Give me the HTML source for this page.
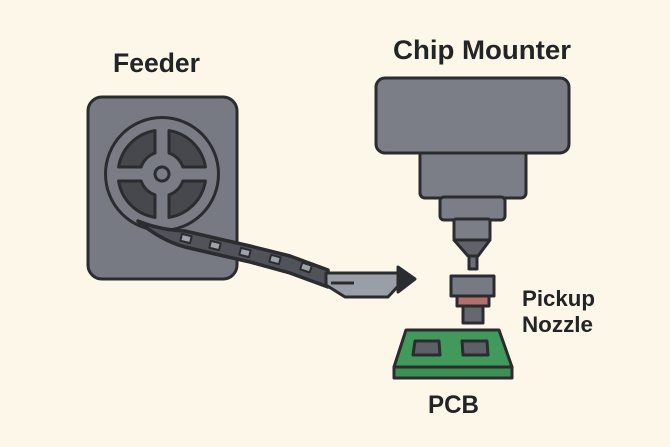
<!DOCTYPE html>
<html><head><meta charset="utf-8"><style>
html,body{margin:0;padding:0;background:#fdf7ea;}
svg{display:block;}
text{font-family:"Liberation Sans",sans-serif;font-weight:bold;fill:#232426;}
</style></head><body>
<svg width="670" height="447" viewBox="0 0 670 447" xmlns="http://www.w3.org/2000/svg">
<rect width="670" height="447" fill="#fdf7ea"/>
<g stroke="#2b2c2f" stroke-width="3" stroke-linejoin="round">
<!-- Feeder -->
<rect x="88" y="97" width="149" height="182" rx="14" fill="#777a83"/>
<circle cx="162" cy="174" r="56.5" fill="#797c85"/>
<path fill="#46484e" d="M169,130.56 A44,44 0 0 1 205.44,167 L182.86,167 A22,22 0 0 0 169,153.14 Z"/>
<path fill="#46484e" d="M155,130.56 A44,44 0 0 0 118.56,167 L141.14,167 A22,22 0 0 1 155,153.14 Z"/>
<path fill="#46484e" d="M169,217.44 A44,44 0 0 0 205.44,181 L182.86,181 A22,22 0 0 1 169,194.86 Z"/>
<path fill="#46484e" d="M155,217.44 A44,44 0 0 1 118.56,181 L141.14,181 A22,22 0 0 0 155,194.86 Z"/>
<circle cx="162" cy="174" r="7" fill="#797c85"/>
<!-- tape -->
<path fill="#505359" stroke-width="3.5" d="M138,221 Q160,230 185,231 L215,238 L250,246 L290,256 L328,270 L328,287 L290,273 L250,262 L215,254 L185,247 Q160,240 138,221 Z"/>
<g fill="#9ea2aa" stroke-width="2">
<rect x="181" y="235" width="10" height="7" transform="rotate(14 186 238.5)"/>
<rect x="210" y="242" width="10" height="7" transform="rotate(14 215 245.5)"/>
<rect x="240" y="249" width="10" height="7" transform="rotate(14 245 252.5)"/>
<rect x="270" y="256" width="10" height="7" transform="rotate(15 275 259.5)"/>
<rect x="301" y="264" width="10" height="7" transform="rotate(18 306 267.5)"/>
</g>
<path fill="#9a9ea7" d="M326,273 L400,273 L400,284 L388,297 L345,297 L326,285 Z"/>
<line x1="331" y1="283" x2="354" y2="283"/>
<path fill="#2b2c2f" d="M398,267 L415,279 L398,292 Z"/>
<!-- Chip mounter -->
<rect x="420" y="150" width="106" height="48" rx="5" fill="#7b7e87"/>
<rect x="440" y="197" width="65" height="23" rx="4" fill="#7b7e87"/>
<rect x="454" y="219" width="36" height="21" rx="2" fill="#7b7e87"/>
<path fill="#5f626a" d="M454,240 L490,240 L478,256 L468,256 Z"/>
<rect x="469" y="256" width="8" height="13" fill="#6b6e76"/>
<rect x="376" y="78" width="193" height="75" rx="9" fill="#7b7e87"/>
<!-- pickup nozzle -->
<rect x="451" y="276" width="43" height="20" fill="#777a83"/>
<rect x="457" y="296" width="32" height="10" fill="#b3706c"/>
<rect x="463" y="306" width="20" height="17" fill="#65686f"/>
<!-- PCB -->
<rect x="394" y="367" width="118" height="11" fill="#3d9055"/>
<path fill="#41995b" d="M406,330 L499,330 L512,367 L394,367 Z"/>
<path fill="#5d6067" d="M415,341 L439,341 L440,355 L413,355 Z"/>
<path fill="#5d6067" d="M462,341 L487,341 L488,355 L463,355 Z"/>
</g>
<text x="113" y="72" font-size="27" textLength="87" lengthAdjust="spacingAndGlyphs">Feeder</text>
<text x="393" y="59" font-size="27" textLength="178" lengthAdjust="spacingAndGlyphs">Chip Mounter</text>
<text x="522" y="306" font-size="22" textLength="73" lengthAdjust="spacingAndGlyphs">Pickup</text>
<text x="522" y="332" font-size="22" textLength="71" lengthAdjust="spacingAndGlyphs">Nozzle</text>
<text x="428" y="413" font-size="25" textLength="51" lengthAdjust="spacingAndGlyphs">PCB</text>
</svg>
</body></html>
